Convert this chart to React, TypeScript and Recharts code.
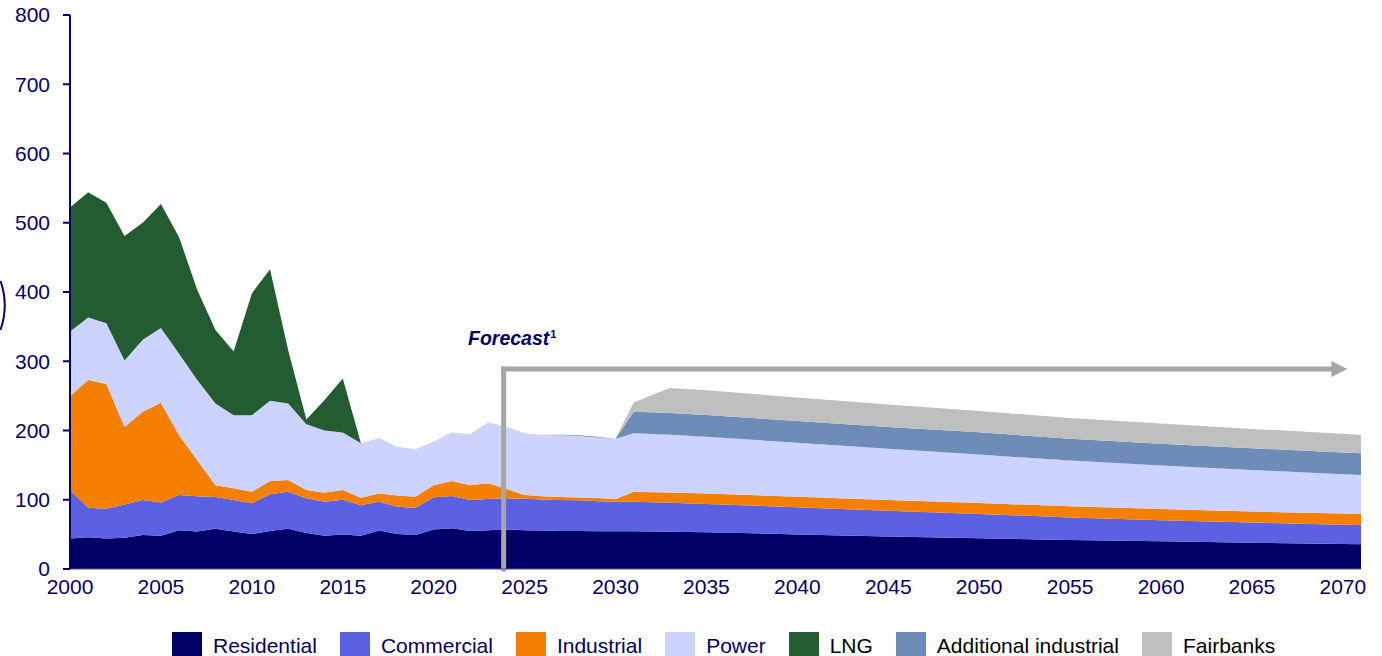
import { AreaChart, Area, XAxis, YAxis, ReferenceLine } from "recharts";

const years = [
  2000, 2001, 2002, 2003, 2004, 2005, 2006, 2007, 2008, 2009,
  2010, 2011, 2012, 2013, 2014, 2015, 2016, 2017, 2018, 2019,
  2020, 2021, 2022, 2023, 2024, 2025, 2026, 2027, 2028, 2029,
  2030, 2031, 2032, 2033, 2035, 2040, 2045, 2050, 2055, 2060, 2065, 2070, 2071,
];

const residential = [
  44, 46, 44, 45, 49, 48, 56, 54, 58, 54,
  50.5, 55, 58, 52, 48, 50, 48, 55.5, 50.5, 49,
  57, 58.7, 55, 56, 57, 56, 55.5, 55, 55, 54.5,
  54.5, 54.5, 54, 53.8, 53, 50, 47, 44.5, 42, 40, 38, 36, 35.7,
];

const commercial = [
  70, 42.5, 43, 48, 50.6, 48, 51, 51, 46, 45.6,
  44.5, 53, 53.7, 50, 49, 50, 44, 42, 39.5, 39.5,
  46.5, 46.7, 44.6, 45, 45, 45.5, 45, 44.6, 44.2, 43.5,
  42.5, 42.5, 42.3, 42, 41, 39, 37, 35, 32.5, 30.5, 29, 28, 27.8,
];

const industrial = [
  136, 184.5, 180, 112, 127.4, 144, 86, 52, 17, 17,
  16.6, 19, 16.8, 12, 13, 14, 11, 11.5, 16, 16,
  17.5, 21.6, 21.4, 23, 13.5, 5.5, 4.5, 4.4, 4, 4.5,
  3.6, 14.6, 14.7, 14.8, 15, 15.2, 15.5, 15.8, 16, 16, 16, 16, 16,
];

const power = [
  93, 90, 88, 96, 104, 108, 118, 116, 118, 105.5,
  110.4, 116, 110.5, 95, 90, 83, 78.5, 80, 70.6, 68.3,
  63, 70, 73.5, 87.8, 90, 89, 89, 89, 89, 87.5,
  87.4, 84.4, 83.8, 83.3, 82, 78, 74, 70, 66, 63, 60, 57, 56.3,
];

const lng = [
  179, 181, 174, 180, 169, 179, 168, 130, 106, 92,
  176, 190, 77, 7, 44, 78, 0, 0, 0, 0,
  0, 0, 0, 0, 0, 0, 0, 0, 0, 0,
  0, 0, 0, 0, 0, 0, 0, 0, 0, 0, 0, 0, 0,
];

const additionalIndustrial = [
  0, 0, 0, 0, 0, 0, 0, 0, 0, 0,
  0, 0, 0, 0, 0, 0, 0, 0, 0, 0,
  0, 0, 0, 0, 0, 0, 0, 1, 1, 1,
  0, 31, 31.5, 31.5, 31.5, 31.5, 31.5, 32, 31.5, 31.5, 31.3, 31.3, 31.3,
];

const fairbanks = [
  0, 0, 0, 0, 0, 0, 0, 0, 0, 0,
  0, 0, 0, 0, 0, 0, 0, 0, 0, 0,
  0, 0, 0, 0, 0, 0, 0, 0, 0, 0,
  0, 13.5, 25, 36, 35.5, 34, 32.5, 31, 30, 29, 28, 27, 26.5,
];

const xTicks = [
  2000, 2005, 2010, 2015, 2020, 2025, 2030, 2035, 2040, 2045, 2050, 2055, 2060, 2065, 2070,
];
const yTicks = [0, 100, 200, 300, 400, 500, 600, 700, 800];

const SERIES = [
  { key: "Residential", values: residential, color: "#000066", text: "#000066" },
  { key: "Commercial", values: commercial, color: "#5A61E3", text: "#000066" },
  { key: "Industrial", values: industrial, color: "#F57F00", text: "#000066" },
  { key: "Power", values: power, color: "#CCD3FE", text: "#000066" },
  { key: "LNG", values: lng, color: "#225C30", text: "#000000" },
  { key: "Additional industrial", values: additionalIndustrial, color: "#6E8CB8", text: "#000000" },
  { key: "Fairbanks", values: fairbanks, color: "#BFBFBF", text: "#000000" },
];

const rows = years.map((year, i) => {
  const row: Record<string, number> = { year };
  SERIES.forEach((s) => (row[s.key] = s.values[i]));
  return row;
});

const FONT = '"Liberation Sans", Arial, sans-serif';
const NAVY = "#000066";
const ARROW = "#A6A6A6";

// forecast bracket: starts at this year, at this height
const FORECAST_X = 2023.85;
const FORECAST_Y = 288.8;
const ARROW_END = 2070.25;

const ArrowShape = (p: any) => {
  const { x1, y1, x2, y2 } = p;
  return (
    <g>
      <line x1={x1} y1={y1} x2={x2 - 15} y2={y2} stroke={ARROW} strokeWidth={5} strokeLinecap="square" />
      <polygon points={`${x2 - 16},${y2 - 8} ${x2},${y2} ${x2 - 16},${y2 + 8}`} fill={ARROW} />
    </g>
  );
};

const App = () => {
  return (
    <div
      style={{
        position: "absolute",
        left: 0,
        top: 0,
        width: 1382,
        height: 656,
        background: "#fff",
        fontFamily: FONT,
        overflow: "hidden",
      }}
    >
      <AreaChart
        width={1382}
        height={620}
        data={rows}
        margin={{ top: 15, right: 21, bottom: 0, left: 0 }}
      >
        <XAxis
          dataKey="year"
          type="number"
          domain={[2000, 2071]}
          ticks={xTicks}
          interval={0}
          height={51}
          tickLine={false}
          tickSize={0}
          tickMargin={10}
          axisLine={{ stroke: "#4D4D99", strokeWidth: 1 }}
          tick={{ fill: NAVY, fontSize: 21, fontFamily: FONT }}
        />
        <YAxis
          type="number"
          domain={[0, 800]}
          ticks={yTicks}
          interval={0}
          width={70}
          tickSize={7}
          tickMargin={13}
          axisLine={{ stroke: NAVY, strokeWidth: 2 }}
          tickLine={{ stroke: NAVY, strokeWidth: 2 }}
          tick={{ fill: NAVY, fontSize: 21, fontFamily: FONT }}
        />
        {SERIES.map((s) => (
          <Area
            key={s.key}
            type="linear"
            dataKey={s.key}
            stackId="1"
            stroke="none"
            fill={s.color}
            fillOpacity={1}
            dot={false}
            activeDot={false}
            isAnimationActive={false}
          />
        ))}
        <ReferenceLine
          segment={[
            { x: FORECAST_X, y: 0 },
            { x: FORECAST_X, y: FORECAST_Y },
          ]}
          stroke={ARROW}
          strokeWidth={5}
          strokeLinecap="square"
        />
        <ReferenceLine
          segment={[
            { x: FORECAST_X, y: FORECAST_Y },
            { x: ARROW_END, y: FORECAST_Y },
          ]}
          shape={ArrowShape}
        />
      </AreaChart>

      {/* clipped bracket at the left edge */}
      <svg style={{ position: "absolute", left: 0, top: 278 }} width={10} height={56}>
        <path d="M0.5,3 Q9,27 0.5,52" fill="none" stroke={NAVY} strokeWidth={2} />
      </svg>

      <div
        style={{
          position: "absolute",
          left: 468,
          top: 329,
          fontSize: 19.5,
          lineHeight: "19px",
          fontWeight: "bold",
          fontStyle: "italic",
          color: NAVY,
          whiteSpace: "nowrap",
        }}
      >
        Forecast
        <span style={{ fontSize: 11, position: "relative", top: -7, marginLeft: 1, fontStyle: "normal" }}>1</span>
      </div>

      <div
        style={{
          position: "absolute",
          left: 172,
          top: 632,
          display: "flex",
          alignItems: "flex-start",
          whiteSpace: "nowrap",
        }}
      >
        {SERIES.map((s) => (
          <div key={s.key} style={{ display: "flex", alignItems: "center", marginRight: 23 }}>
            <div style={{ width: 30, height: 30, background: s.color, marginRight: 11 }} />
            <span style={{ fontSize: 21, color: s.text, lineHeight: "30px", position: "relative", top: -1 }}>
              {s.key}
            </span>
          </div>
        ))}
      </div>
    </div>
  );
};

export default App;
